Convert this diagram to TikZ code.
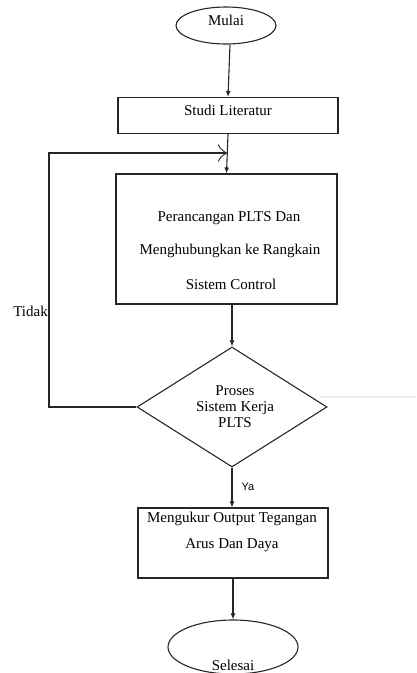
\documentclass[tikz,border=0pt]{standalone}
\usepackage{fontspec}
\setmainfont{Liberation Serif}
\newfontfamily\yafont{Liberation Sans}
\usetikzlibrary{shapes.geometric}
\usetikzlibrary{arrows.meta}
\usetikzlibrary{positioning}

\tikzset{
  garis/.style={line width=1.1pt, black!85},
  panah/.style={garis, -{Latex[length=6pt,width=5pt]}},
  kotak/.style={draw, garis, rectangle, inner sep=0pt},
  tulisan/.style={inner sep=0pt, font=\fontsize{15}{16}\selectfont}
}

\begin{document}
\begin{tikzpicture}[x=1pt,y=-1pt]
\useasboundingbox (0,0) rectangle (416,673);

\path
(226,25.5) node[ellipse, draw, garis, inner sep=0pt, minimum width=100pt, minimum height=37pt] (mulai) {}
(228,115.5) node[kotak, minimum width=220pt, minimum height=36pt] (studi) {}
(226.5,239) node[kotak, minimum width=221pt, minimum height=130pt] (rancang) {}
(232,407) node[diamond, draw, garis, inner sep=0pt, minimum width=190pt, minimum height=120pt] (proses) {}
(233,543) node[kotak, minimum width=190pt, minimum height=70pt] (ukur) {}
(233,647) node[ellipse, draw, garis, inner sep=0pt, minimum width=130pt, minimum height=54pt] (selesai) {};

\path
(226,20) node[tulisan] (mulaitxt) {Mulai}
(228,110) node[tulisan] (studitxt) {Studi Literatur}
(229,218) node[tulisan] (rancangtxt1) {Perancangan PLTS Dan}
(230,251) node[tulisan] (rancangtxt2) {Menghubungkan ke Rangkain}
(231,284) node[tulisan] (rancangtxt3) {Sistem Control}
(235,407) node[tulisan, align=center] (prosestxt) {Proses\\Sistem Kerja\\PLTS}
(232,519) node[tulisan] (ukurtxt1) {Mengukur Output Tegangan}
(232,545) node[tulisan] (ukurtxt2) {Arus Dan Daya}
(233,665) node[tulisan] (selesaitxt) {Selesai}
(48,311) node[tulisan, anchor=east] (tidak) {Tidak}
(248,487) node[inner sep=0pt, font=\yafont\fontsize{11}{13}\selectfont] (ya) {Ya};

\coordinate (kiri) at (49,153);
\coordinate (temu) at (227,153);

\draw[panah] ([xshift=4pt]mulai.south) -- (studi.north);
\draw[panah] (studi.south) -- (rancang.north);
\draw[panah] (rancang.south -| proses.north) -- (proses.north);
\draw[panah] (proses.south) -- (ukur.north -| proses.south);
\draw[panah] (ukur.south -| selesai.north) -- (selesai.north);

%loop tidak
\draw[garis, -{Classical TikZ Rightarrow[length=9pt]}] (proses.west) -| (kiri) -- (temu);

\draw[gray!12, line width=1.5pt] (320,397) -- (416,397);

\end{tikzpicture}
\end{document}
